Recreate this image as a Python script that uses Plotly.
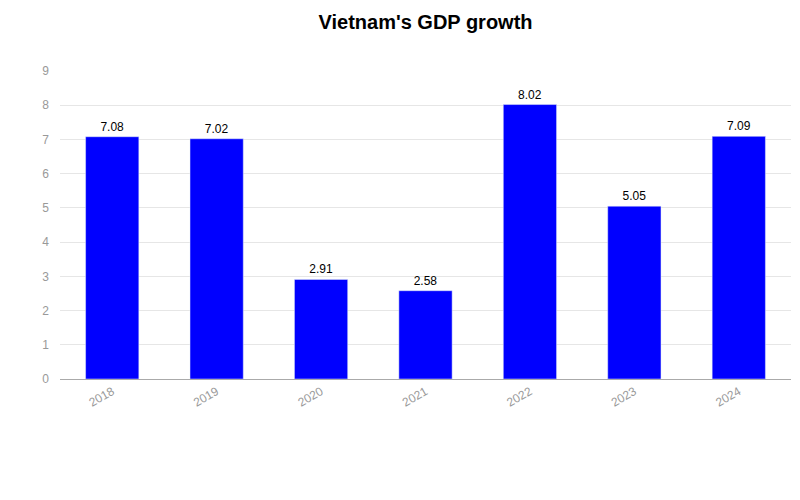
import plotly.graph_objects as go

years = ["2018", "2019", "2020", "2021", "2022", "2023", "2024"]
growth = [7.08, 7.02, 2.91, 2.58, 8.02, 5.05, 7.09]
title_text = "Vietnam's GDP growth"

fig = go.Figure(go.Bar(
    x=years, y=growth,
    marker_color="#0000FF",
    text=[f"{v:.2f}" for v in growth],
    textposition="outside",
    textfont=dict(color="#000000", size=12, family="Liberation Sans, Arial"),
    cliponaxis=False,
))

fig.update_layout(
    width=800, height=500,
    margin=dict(l=52, r=17, t=63, b=129),
    paper_bgcolor="white", plot_bgcolor="white",
    font=dict(family="Liberation Sans, Arial", size=12, color="#999999"),
    title=dict(text=f"<b>{title_text}</b>", x=0.5, xref="paper", y=0.972, yref="container",
               xanchor="center", yanchor="middle",
               font=dict(size=20, color="#000000", family="Liberation Sans, Arial")),
    bargap=0.49,
    showlegend=False,
)
fig.update_xaxes(type="category", tickangle=-30, showline=True, linecolor="#aaaaaa",
                 linewidth=1, showgrid=False, ticks="", tickfont=dict(color="#999999", size=12))
fig.update_yaxes(range=[0, 9], dtick=1, showgrid=True, gridcolor="#e6e6e6", zeroline=False,
                 ticks="", tickfont=dict(color="#999999", size=12), ticklabelstandoff=10)

fig.write_html("out.html")
